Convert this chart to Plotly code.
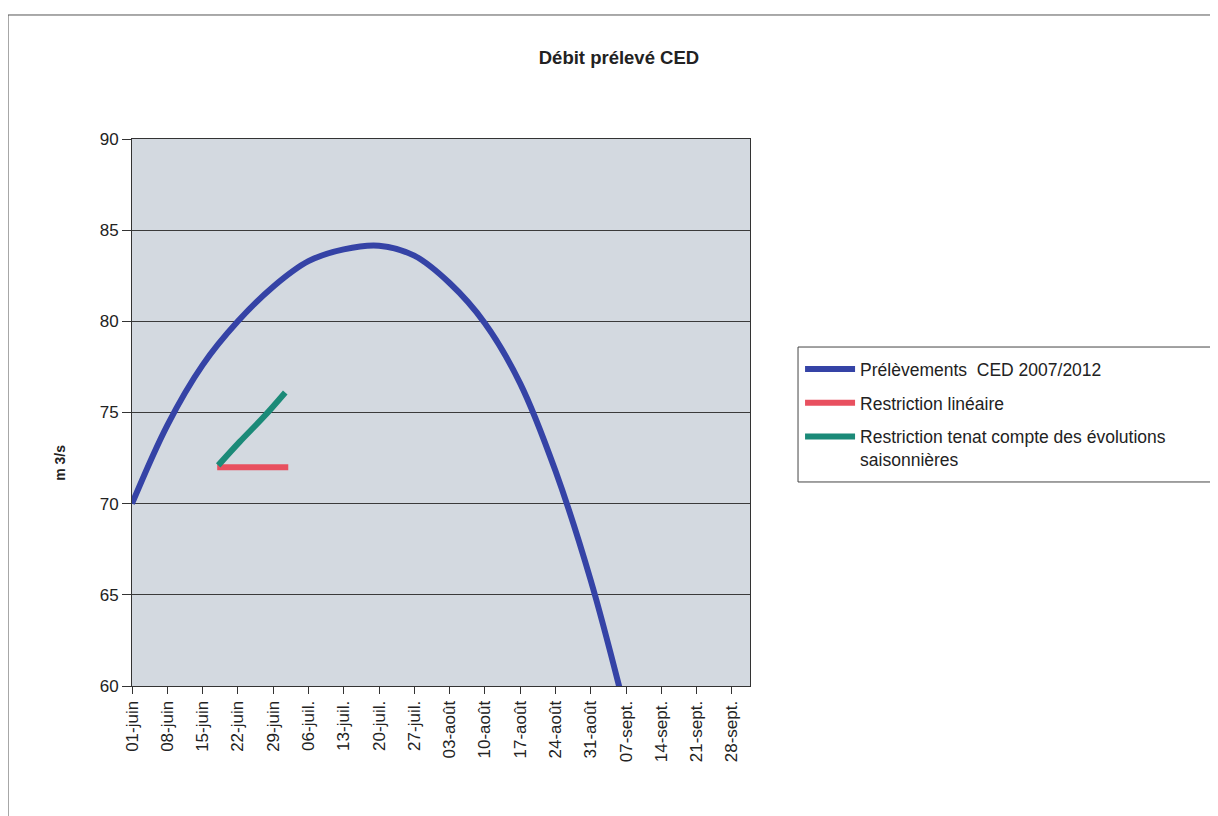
import plotly.graph_objects as go
import pandas as pd

start = pd.Timestamp("2012-06-01")

# Prélèvements CED 2007/2012 (day offset from 01-juin, m3/s)
blue_days = [0, 7, 14, 21, 28, 35, 42, 49, 56, 63, 70, 77, 84, 91, 98]
blue_vals = [70.0, 74.3, 77.6, 80.0, 81.9, 83.3, 83.95, 84.15, 83.6, 82.1,
             79.9, 76.6, 71.8, 65.8, 58.5]

# Restriction linéaire
red_days = [16.9, 31]
red_vals = [72.0, 72.0]

# Restriction tenant compte des évolutions saisonnières
green_days = [17.1, 21.4, 26.1, 30.4]
green_vals = [72.1, 73.4, 74.75, 76.1]

tick_days = list(range(0, 120, 7))
tick_labels = ["01-juin", "08-juin", "15-juin", "22-juin", "29-juin", "06-juil.", "13-juil.",
               "20-juil.", "27-juil.", "03-août", "10-août", "17-août", "24-août", "31-août",
               "07-sept.", "14-sept.", "21-sept.", "28-sept."]

def to_dates(days):
    return [start + pd.Timedelta(days=d) for d in days]

fig = go.Figure()
fig.add_trace(go.Scatter(x=to_dates(blue_days), y=blue_vals, mode="lines",
                         line=dict(color="#3543a6", width=6, shape="spline", smoothing=1.0),
                         legendgroup="a",
                         name="Prélèvements  CED 2007/2012"))
fig.add_trace(go.Scatter(x=to_dates(red_days), y=red_vals, mode="lines",
                         line=dict(color="#e8505f", width=6),
                         legendgroup="b",
                         name="Restriction linéaire"))
fig.add_trace(go.Scatter(x=to_dates(green_days), y=green_vals, mode="lines",
                         line=dict(color="#1b8a78", width=6, shape="spline"),
                         legendgroup="c",
                         name="Restriction tenat compte des évolutions<br>saisonnières"))

fig.update_layout(
    width=1218, height=816,
    margin=dict(l=124, r=476, t=131, b=138),
    paper_bgcolor="white",
    plot_bgcolor="#d3d9e0",
    font=dict(family="Liberation Sans, Arial, sans-serif", color="#222", size=16),
    title=dict(text="<b>Débit prélevé CED</b>", x=0.5016, xref="container", xanchor="center",
               y=0.9387, yref="container", yanchor="middle", font=dict(size=18.5, color="#222")),
    showlegend=True,
    legend=dict(x=1.081, y=0.612, xanchor="left", yanchor="top",
                borderwidth=0, bgcolor="rgba(0,0,0,0)",
                font=dict(size=17.5, color="#222"), tracegroupgap=8,
                itemwidth=50, valign="top"),
    xaxis=dict(
        range=[start, start + pd.Timedelta(days=122.6)],
        tickvals=to_dates(tick_days), ticktext=tick_labels,
        tickangle=-90, tickfont=dict(size=17),
        ticks="outside", ticklen=7, tickcolor="#333",
        showgrid=False, showline=True, linecolor="#333", linewidth=1, mirror=True,
        zeroline=False,
    ),
    yaxis=dict(
        range=[60, 90], dtick=5, tickfont=dict(size=17),
        ticks="outside", ticklen=9, tickcolor="#333",
        showgrid=True, gridcolor="#3a3a3a", gridwidth=1,
        showline=True, linecolor="#333", linewidth=1, mirror=True,
        zeroline=False,
    ),
    shapes=[
        dict(type="rect", xref="paper", yref="paper",
             x0=-0.2006, x1=2.0, y0=-0.4, y1=1.2267,
             line=dict(color="#555", width=1), fillcolor="rgba(0,0,0,0)", layer="below"),
        dict(type="rect", xref="paper", yref="paper",
             x0=1.0777, x1=1.7524, y0=0.373, y1=0.6197,
             line=dict(color="#444", width=1), fillcolor="white", layer="below"),
    ],
    annotations=[dict(text="<b>m 3/s</b>", xref="paper", yref="paper", x=-0.1165, y=0.408,
                      textangle=-90, showarrow=False, font=dict(size=14, color="#222"),
                      xanchor="center", yanchor="middle")],
)

fig.write_html("out.html")
